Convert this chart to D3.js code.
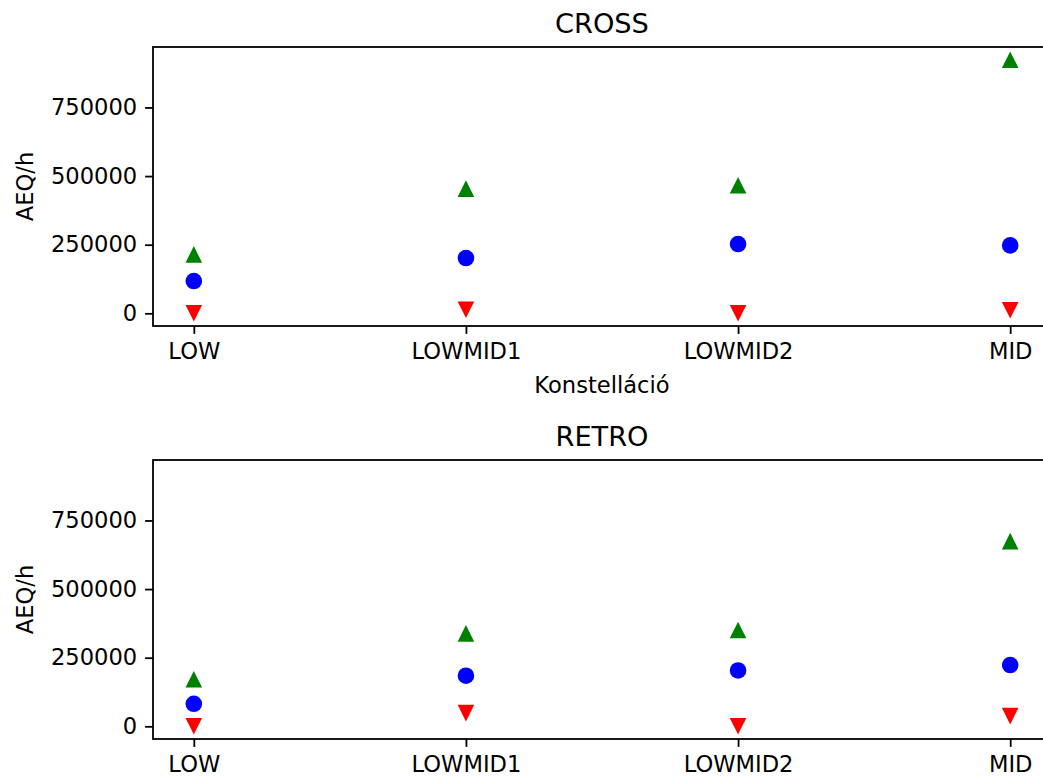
<!DOCTYPE html>
<html>
<head>
<meta charset="utf-8">
<script src="https://cdn.jsdelivr.net/npm/d3@7"></script>
<style>
  html, body { margin: 0; padding: 0; background: #fff; overflow: hidden; }
  svg { display: block; font-family: "DejaVu Sans", sans-serif; }
</style>
</head>
<body>
<script>
// ---- data ----
const categories = ["LOW", "LOWMID1", "LOWMID2", "MID"];
const crossMax  = [214600, 454400, 466400, 924000];
const crossMean = [117500, 201500, 252500, 247400];
const crossMin  = [500, 12800, 0, 11000];
const retroMax  = [171500, 338700, 351100, 674500];
const retroMean = [82100, 184300, 203600, 223300];
const retroMin  = [0, 48200, 0, 37200];
const yTicks = [0, 250000, 500000, 750000];
const panelTitles = ["CROSS", "RETRO"];
const yLabel = "AEQ/h";
const xLabel = "Konstelláció";

const W = 1043, H = 781;
const svg = d3.select("body").append("svg").attr("width", W).attr("height", H);

const allVals = [].concat(crossMax, crossMean, crossMin, retroMax, retroMean, retroMin);
const vmin = d3.min(allVals), vmax = d3.max(allVals);
const pad = (vmax - vmin) * 0.05;

const left = 153, right = 1051;
const x = d3.scaleLinear().domain([-0.15, categories.length - 1 + 0.15]).range([left, right]);

const panels = [
  { title: panelTitles[0], top: 47, bottom: 326, max: crossMax, mean: crossMean, min: crossMin, xlabel: true },
  { title: panelTitles[1], top: 460, bottom: 739, max: retroMax, mean: retroMean, min: retroMin, xlabel: false }
];

const lw = 1.8, tickLen = 7.9, tickFont = 22.6, titleFont = 27.2;
const markSize = 16.6;

panels.forEach(p => {
  const y = d3.scaleLinear().domain([vmin - pad, vmax + pad]).range([p.bottom, p.top]);
  const g = svg.append("g");

  // markers
  const idx = categories.map((c, i) => i);
  const tri = s => `M0,${-s/2}L${s/2},${s/2}L${-s/2},${s/2}Z`;
  const triDown = s => `M0,${s/2}L${s/2},${-s/2}L${-s/2},${-s/2}Z`;

  g.selectAll(".mean").data(idx).join("circle")
    .attr("cx", i => x(i)).attr("cy", i => y(p.mean[i])).attr("r", markSize / 2)
    .attr("fill", "#0000ff");
  g.selectAll(".min").data(idx).join("path")
    .attr("transform", i => `translate(${x(i)},${y(p.min[i])})`)
    .attr("d", triDown(markSize)).attr("fill", "#ff0000");
  g.selectAll(".max").data(idx).join("path")
    .attr("transform", i => `translate(${x(i)},${y(p.max[i])})`)
    .attr("d", tri(markSize)).attr("fill", "#008000");

  // axes
  const yAxis = d3.axisLeft(y).tickValues(yTicks).tickFormat(d3.format("d"))
    .tickSize(tickLen).tickPadding(7.9);
  const yg = svg.append("g").attr("transform", `translate(${left},0)`).call(yAxis);
  const xAxis = d3.axisBottom(x).tickValues(categories.map((c, i) => i))
    .tickFormat(i => categories[i]).tickSize(tickLen).tickPadding(7.9);
  const xg = svg.append("g").attr("transform", `translate(0,${p.bottom})`).call(xAxis);
  [yg, xg].forEach(a => {
    a.select(".domain").remove();
    a.selectAll(".tick line").attr("stroke", "#000").attr("stroke-width", lw);
    a.selectAll(".tick text").attr("fill", "#000").attr("font-size", tickFont)
      .attr("font-family", "DejaVu Sans");
  });
  xg.selectAll(".tick text").attr("dy", "0.78em");

  // spines
  svg.append("rect").attr("x", left).attr("y", p.top)
    .attr("width", right - left).attr("height", p.bottom - p.top)
    .attr("fill", "none").attr("stroke", "#000").attr("stroke-width", lw);

  // title
  svg.append("text").attr("x", (left + right) / 2).attr("y", p.top - 13.6)
    .attr("text-anchor", "middle").attr("font-size", titleFont).attr("fill", "#000")
    .text(p.title);

  // y label
  svg.append("text")
    .attr("transform", `translate(33,${(p.top + p.bottom) / 2}) rotate(-90)`)
    .attr("text-anchor", "middle").attr("font-size", tickFont).attr("fill", "#000")
    .text(yLabel);

  if (p.xlabel) {
    svg.append("text").attr("x", (left + right) / 2).attr("y", p.bottom + 67)
      .attr("text-anchor", "middle").attr("font-size", tickFont).attr("fill", "#000")
      .text(xLabel);
  }
});
</script>
</body>
</html>
